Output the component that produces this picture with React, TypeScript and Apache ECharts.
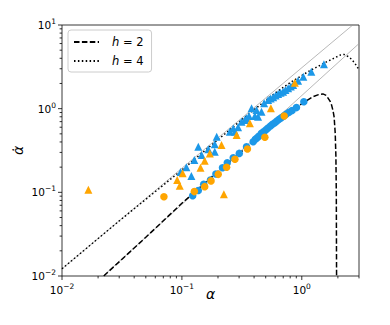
import React, { useEffect, useRef } from "react";
import * as echarts from "echarts";

const FONT = "DejaVu Sans";
const xMin = 0.01;
const xMax = 3;
const yMin = 0.01;
const yMax = 10;

const majorX = [0.01, 0.1, 1];
const majorY = [0.01, 0.1, 1, 10];
const decadesX = [0.01, 0.1, 1];
const decadesY = [0.01, 0.1, 1];
const minorMult = [2, 3, 4, 5, 6, 7, 8, 9];

// thin grey reference lines
const refUpper = [[0.01, 0.0122], [2.66, 10]];
const refLower = [[0.022, 0.01], [3.0, 6.0]];

// h = 2 (dashed)
const curveH2 = [
  [0.0223, 0.01], [0.05, 0.029], [0.1, 0.074], [0.2, 0.178], [0.3, 0.29], [0.4, 0.41],
  [0.5, 0.55], [0.7, 0.81], [0.9, 1.03], [1.06, 1.21], [1.24, 1.39], [1.38, 1.47],
  [1.5, 1.5], [1.6, 1.44], [1.66, 1.33], [1.72, 1.23], [1.77, 1.11], [1.82, 0.95],
  [1.86, 0.8], [1.9, 0.51], [1.925, 0.27], [1.94, 0.1], [1.945, 0.03], [1.95, 0.01],
];

// h = 4 (dotted)
const curveH4 = [
  [0.01, 0.0122], [0.03, 0.0455], [0.1, 0.185], [0.228, 0.498], [0.314, 0.733],
  [0.432, 1.06], [0.596, 1.53], [0.821, 2.1], [1.13, 2.77], [1.556, 3.54], [1.85, 4.0],
  [2.1, 4.38], [2.25, 4.45], [2.43, 4.2], [2.6, 3.9], [2.77, 3.48], [2.9, 3.15], [3.0, 2.9],
];

const blueCircles = [
  [0.123, 0.091], [0.137, 0.105], [0.152, 0.125], [0.173, 0.14], [0.192, 0.166],
  [0.218, 0.197], [0.239, 0.226], [0.268, 0.259], [0.301, 0.292], [0.346, 0.351],
  [0.393, 0.403], [0.41, 0.43], [0.425, 0.45], [0.44, 0.47], [0.461, 0.508],
  [0.48, 0.53], [0.501, 0.556], [0.52, 0.585], [0.548, 0.621], [0.57, 0.65],
  [0.596, 0.679], [0.62, 0.71], [0.647, 0.746], [0.675, 0.78], [0.708, 0.817],
  [0.74, 0.86], [0.784, 0.905], [0.83, 0.95], [0.903, 1.03], [1.04, 1.21],
];

const orangeCircles = [
  [0.0708, 0.0887], [0.127, 0.102], [0.155, 0.117], [0.175, 0.137], [0.201, 0.164],
  [0.236, 0.199], [0.277, 0.248], [0.352, 0.33], [0.492, 0.455], [0.713, 0.817],
];

const blueTriangles = [
  [0.0975, 0.175], [0.109, 0.199], [0.12, 0.157], [0.127, 0.244], [0.137, 0.351],
  [0.146, 0.279], [0.166, 0.327], [0.188, 0.306], [0.188, 0.375], [0.195, 0.463],
  [0.251, 0.531], [0.268, 0.58], [0.277, 0.531], [0.294, 0.598], [0.314, 0.7],
  [0.335, 0.733], [0.346, 0.77], [0.363, 0.817], [0.381, 1.01], [0.406, 0.817],
  [0.419, 0.964], [0.432, 0.8], [0.461, 0.92], [0.485, 1.16], [0.524, 1.27],
  [0.55, 1.32], [0.577, 1.37], [0.605, 1.44], [0.635, 1.5], [0.665, 1.55],
  [0.698, 1.59], [0.73, 1.67], [0.769, 1.75], [0.81, 1.84], [0.847, 1.92],
  [0.931, 2.16], [1.03, 2.41], [1.2, 2.77], [1.53, 3.39],
];

const orangeTriangles = [
  [0.0166, 0.107], [0.0914, 0.14], [0.096, 0.12], [0.1014, 0.169], [0.143, 0.197],
  [0.155, 0.239], [0.171, 0.292], [0.214, 0.368], [0.224, 0.095], [0.286, 0.484],
  [0.369, 0.668], [0.552, 1.01], [0.875, 2.04],
];

const BLUE = "#1c98e8";
const ORANGE = "#ffa500";

function minorTicks(decades: number[], max: number) {
  const out: number[] = [];
  decades.forEach((d) => minorMult.forEach((m) => {
    const v = d * m;
    if (v <= max * 1.0001) out.push(v);
  }));
  return out;
}

function logLabel(v: number) {
  const e = Math.log10(v);
  const r = Math.round(e);
  if (Math.abs(e - r) > 1e-6) return "";
  return `{b|10}{s|${r < 0 ? "\u2212" : ""}${Math.abs(r)}}`;
}

const labelRich = {
  b: { fontFamily: FONT, fontSize: 10.5, color: "#000" },
  s: { fontFamily: FONT, fontSize: 7.5, color: "#000", padding: [0, 0, 7, 0] },
};

export default function App() {
  const ref = useRef<HTMLDivElement>(null);
  useEffect(() => {
    if (!ref.current) return;
    const chart = echarts.init(ref.current, undefined, { renderer: "svg" });

    const xTicks = [
      ...majorX.map((v) => [v, yMin, 4]),
      ...minorTicks(decadesX, xMax).map((v) => [v, yMin, 2.4]),
    ];
    const yTicks = [
      ...majorY.map((v) => [xMin, v, 4]),
      ...minorTicks(decadesY, yMax).map((v) => [xMin, v, 2.4]),
    ];

    const tickSeries = (data: number[][], horiz: boolean) => ({
      type: "custom",
      coordinateSystem: "cartesian2d",
      clip: false,
      silent: true,
      z: 20,
      data,
      renderItem: (_p: any, api: any) => {
        const pt = api.coord([api.value(0), api.value(1)]);
        const len = api.value(2);
        return {
          type: "line",
          shape: horiz
            ? { x1: pt[0], y1: pt[1], x2: pt[0], y2: pt[1] + len }
            : { x1: pt[0], y1: pt[1], x2: pt[0] - len, y2: pt[1] },
          style: { stroke: "#000", lineWidth: 0.8 },
        };
      },
    });

    chart.setOption({
      animation: false,
      backgroundColor: "#fff",
      grid: {
        left: 62, right: 31, top: 25, bottom: 49,
        outerBoundsMode: "none", containLabel: false,
        show: true, borderColor: "#222", borderWidth: 0.9, backgroundColor: "transparent",
      },
      legend: {
        data: ["h2", "h4"],
        orient: "vertical",
        left: 68, top: 30,
        itemWidth: 25, itemHeight: 12, itemGap: 7,
        padding: [6, 8, 5, 5],
        borderColor: "#ccc", borderWidth: 1, borderRadius: 3,
        backgroundColor: "rgba(255,255,255,0.8)",
        itemStyle: { opacity: 0, borderWidth: 0 },
        formatter: (name: string) => (name === "h2" ? "{g|}{i|h}{n| = 2}" : "{g|}{i|h}{n| = 4}"),
        textStyle: {
          fontFamily: FONT, fontSize: 11, color: "#000",
          rich: {
            g: { width: 8 },
            i: { fontFamily: FONT, fontSize: 11.5, fontStyle: "italic", color: "#000" },
            n: { fontFamily: FONT, fontSize: 11.5, color: "#000" },
          },
        },
      },
      xAxis: {
        type: "log", min: xMin, max: xMax, logBase: 10,
        axisLine: { show: false }, axisTick: { show: false }, splitLine: { show: false },
        axisLabel: { formatter: logLabel, rich: labelRich, margin: 6, showMaxLabel: false },
        name: "\u03b1", nameLocation: "middle", nameGap: 11, nameMoveOverlap: false,
        nameTextStyle: { fontFamily: FONT, fontSize: 14, fontStyle: "italic", color: "#000" },
      },
      yAxis: {
        type: "log", min: yMin, max: yMax, logBase: 10,
        axisLine: { show: false }, axisTick: { show: false }, splitLine: { show: false },
        axisLabel: { formatter: logLabel, rich: labelRich, margin: 6 },
        name: "\u03b1\u0307", nameLocation: "middle", nameGap: 44, nameMoveOverlap: false,
        nameTextStyle: {
          fontFamily: FONT, fontSize: 14, fontStyle: "italic", color: "#000",
          lineHeight: 14, verticalAlign: "middle",
        },
      },
      series: [
        {
          type: "line", name: "refU", data: refUpper, symbol: "none", z: 1,
          lineStyle: { color: "#999", width: 0.7 },
        },
        {
          type: "line", name: "refL", data: refLower, symbol: "none", z: 1,
          lineStyle: { color: "#999", width: 0.7 },
        },
        {
          type: "line", name: "h2", data: curveH2, symbol: "none", showSymbol: false, z: 2,
          itemStyle: { color: "#000" },
          lineStyle: { color: "#000", width: 1.5, type: [5.5, 2.4] },
        },
        {
          type: "line", name: "h4", data: curveH4, symbol: "none", showSymbol: false, z: 2,
          itemStyle: { color: "#000" },
          lineStyle: { color: "#000", width: 1.5, type: [1.5, 2.4] },
        },
        {
          type: "scatter", name: "bc", data: blueCircles, symbol: "circle", symbolSize: 7.5, z: 3,
          itemStyle: { color: BLUE, opacity: 1 },
        },
        {
          type: "scatter", name: "bt", data: blueTriangles, symbol: "triangle", symbolSize: 8, z: 3,
          itemStyle: { color: BLUE, opacity: 1 },
        },
        {
          type: "scatter", name: "oc", data: orangeCircles, symbol: "circle", symbolSize: 7.5, z: 4,
          itemStyle: { color: ORANGE, opacity: 1 },
        },
        {
          type: "scatter", name: "ot", data: orangeTriangles, symbol: "triangle", symbolSize: 8, z: 4,
          itemStyle: { color: ORANGE, opacity: 1 },
        },
        tickSeries(xTicks, true),
        tickSeries(yTicks, false),
      ],
    } as any);
    return () => chart.dispose();
  }, []);
  return (
    <div
      ref={ref}
      style={{ position: "absolute", left: 0, top: 0, width: 390, height: 325 }}
    />
  );
}
